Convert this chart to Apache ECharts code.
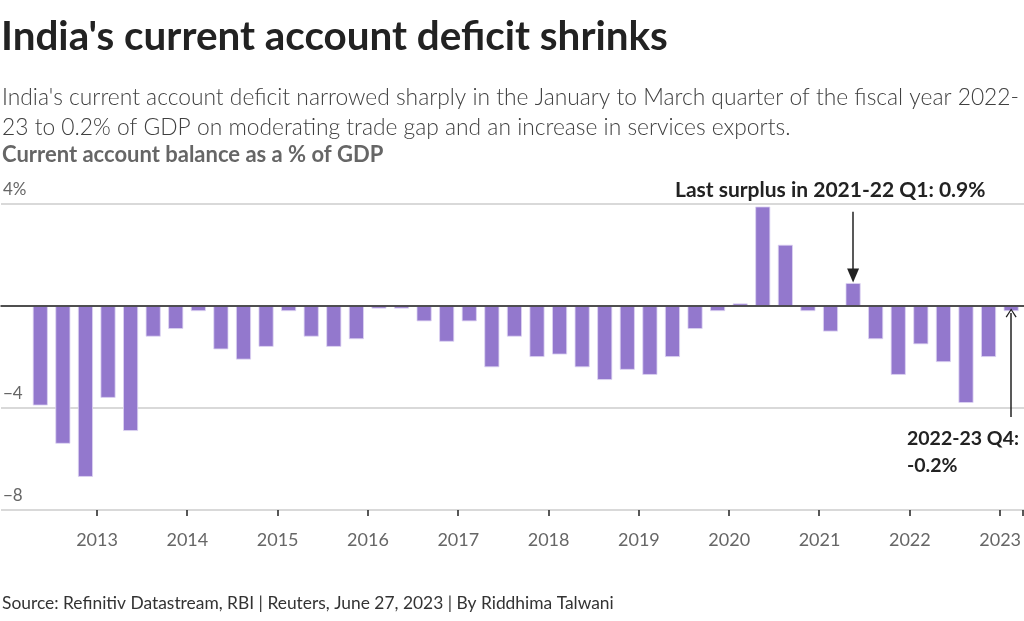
<!DOCTYPE html>
<html>
<head>
<meta charset="utf-8">
<script src="https://cdn.jsdelivr.net/npm/echarts@6/dist/echarts.min.js"></script>
<style>
html,body{margin:0;padding:0;background:#fff;}
#chart{width:1024px;height:621px;}
</style>
</head>
<body>
<div id="chart"></div>
<script>
// Fiscal-year quarters (Q1 = Apr-Jun)
const quarters = [
  '2012-13 Q1','2012-13 Q2','2012-13 Q3','2012-13 Q4',
  '2013-14 Q1','2013-14 Q2','2013-14 Q3','2013-14 Q4',
  '2014-15 Q1','2014-15 Q2','2014-15 Q3','2014-15 Q4',
  '2015-16 Q1','2015-16 Q2','2015-16 Q3','2015-16 Q4',
  '2016-17 Q1','2016-17 Q2','2016-17 Q3','2016-17 Q4',
  '2017-18 Q1','2017-18 Q2','2017-18 Q3','2017-18 Q4',
  '2018-19 Q1','2018-19 Q2','2018-19 Q3','2018-19 Q4',
  '2019-20 Q1','2019-20 Q2','2019-20 Q3','2019-20 Q4',
  '2020-21 Q1','2020-21 Q2','2020-21 Q3','2020-21 Q4',
  '2021-22 Q1','2021-22 Q2','2021-22 Q3','2021-22 Q4',
  '2022-23 Q1','2022-23 Q2','2022-23 Q3','2022-23 Q4'
];
// Current account balance, % of GDP
const balance = [
  -3.9, -5.4, -6.7, -3.6,
  -4.9, -1.2, -0.9, -0.2,
  -1.7, -2.1, -1.6, -0.2,
  -1.2, -1.6, -1.3, -0.1,
  -0.1, -0.6, -1.4, -0.6,
  -2.4, -1.2, -2.0, -1.9,
  -2.4, -2.9, -2.5, -2.7,
  -2.0, -0.9, -0.2, 0.1,
  3.9, 2.4, -0.2, -1.0,
  0.9, -1.3, -2.7, -1.5,
  -2.2, -3.8, -2.0, -0.2
];
// Calendar-year tick labels (placed at each January)
const yearLabels = ['2013','2014','2015','2016','2017','2018','2019','2020','2021','2022','2023'];
const yTicks = {min: -8, max: 4, interval: 4};

const FONT = 'Lato, "Noto Sans", sans-serif';
const chart = echarts.init(document.getElementById('chart'), null, {renderer: 'canvas'});

const option = {
  animation: false,
  backgroundColor: '#ffffff',
  textStyle: {fontFamily: FONT},
  grid: [
    {left: 29, right: 0, top: 204, bottom: 111, containLabel: false},
    {left: 0, right: 0, top: 204, bottom: 111, containLabel: false}
  ],
  xAxis: [
    {
      type: 'category', gridIndex: 0, data: quarters, position: 'bottom',
      axisLine: {show: false, onZero: false},
      axisTick: {show: true, length: 6, interval: function (i) { return i % 4 === 3; },
                 lineStyle: {color: '#222', width: 1.5}},
      axisLabel: {
        interval: function (i) { return i % 4 === 3; },
        formatter: function (v, i) { return i % 4 === 3 ? yearLabels[(i - 3) / 4] : ''; },
        color: '#666', fontSize: 18, fontFamily: FONT, margin: 21,
        padding: [0, 22, 0, 0]
      },
      splitLine: {show: false}
    },
    {
      type: 'value', gridIndex: 1, min: 0, max: 1, z: 5,
      axisLine: {show: true, onZero: true, lineStyle: {color: '#222', width: 1.5}},
      axisTick: {show: false}, axisLabel: {show: false}, splitLine: {show: false}
    }
  ],
  yAxis: [
    {
      type: 'value', gridIndex: 0, min: yTicks.min, max: yTicks.max, interval: yTicks.interval,
      show: false, splitLine: {show: false}
    },
    {
      type: 'value', gridIndex: 1, min: yTicks.min, max: yTicks.max, interval: yTicks.interval,
      axisLine: {show: false}, axisTick: {show: false},
      splitLine: {show: true, lineStyle: {color: '#cccccc', width: 1.5}},
      axisLabel: {
        inside: true, margin: 2, verticalAlign: 'bottom', padding: [0, 0, 6, 0],
        color: '#666', fontSize: 17, fontFamily: FONT,
        formatter: function (v) {
          if (v === 0) return '';
          if (v > 0) return v + '%';
          return '\u2212' + Math.abs(v);
        }
      }
    }
  ],
  series: [{
    type: 'bar', xAxisIndex: 0, yAxisIndex: 0, data: balance,
    barWidth: 15,
    itemStyle: {color: '#9378cd', borderColor: '#ddd4f3', borderWidth: 0.8},
    markLine: {
      silent: true, animation: false,
      label: {show: false},
      lineStyle: {color: '#222', width: 1.5, type: 'solid'},
      data: [
        [{coord: [quarters[36], 3.7], symbol: 'none'},
         {coord: [quarters[36], 1.2], symbol: 'triangle', symbolSize: [12, 14]}],
        [{coord: [quarters[43], -4.35], symbol: 'none'},
         {coord: [quarters[43], -0.27], symbol: 'path://M0,10 L5,0 L10,10 L9,10.8 L5,2.4 L1,10.8 Z', symbolSize: [11, 9]}]
      ]
    }
  }],
  graphic: [
    {type: 'text', left: 1, top: 17, style: {text: "India's current account deficit shrinks",
      font: 'bold 40.4px ' + FONT, fill: '#222'}},
    {type: 'text', left: 2, top: 83, style: {text: "India's current account deficit narrowed sharply in the January to March quarter of the fiscal year 2022-\n23 to 0.2% of GDP on moderating trade gap and an increase in services exports.",
      font: '300 22.8px ' + FONT, fill: '#404040', lineHeight: 30}},
    {type: 'text', left: 2, top: 144, style: {text: 'Current account balance as a % of GDP',
      font: 'bold 22px ' + FONT, fill: '#666'}},
    {type: 'text', left: 675, top: 180, style: {text: 'Last surplus in 2021-22 Q1: 0.9%',
      font: 'bold 21px ' + FONT, fill: '#222'}},
    {type: 'text', left: 907, top: 425, style: {text: '2022-23 Q4:\n-0.2%',
      font: 'bold 19.5px ' + FONT, fill: '#222', lineHeight: 27}},
    {type: 'text', left: 2, top: 595, style: {text: 'Source: Refinitiv Datastream, RBI | Reuters, June 27, 2023 | By Riddhima Talwani',
      font: '17.4px ' + FONT, fill: '#333'}}
  ]
};
chart.setOption(option);
</script>
</body>
</html>
